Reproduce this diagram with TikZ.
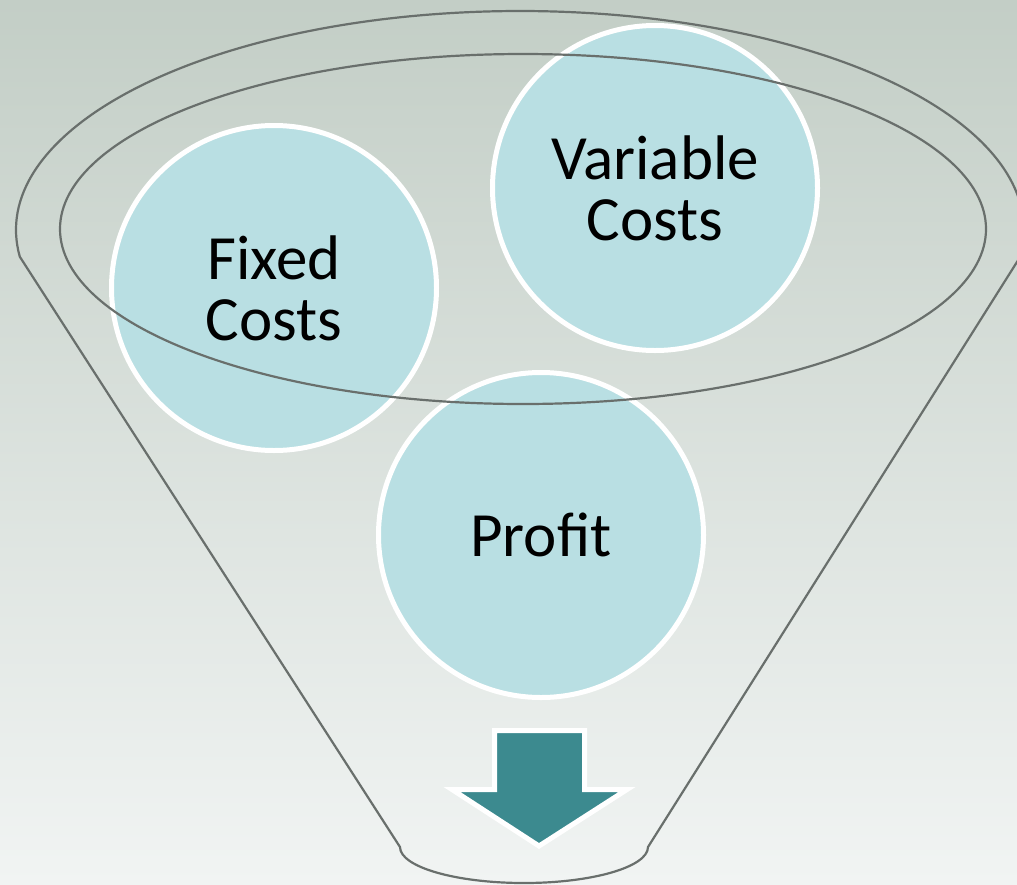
\documentclass[tikz,border=0pt]{standalone}
\usepackage{fontspec}
\setmainfont{Carlito}
\definecolor{bgTop}{HTML}{C3CEC6}
\definecolor{bgBottom}{HTML}{F1F4F3}
\definecolor{bubbleFill}{HTML}{B9DFE3}
\definecolor{funnelLine}{HTML}{696F6C}
\definecolor{arrowFill}{HTML}{3C8A8F}
\begin{document}
\begin{tikzpicture}[x=1pt,y=-1pt,
  bubble/.style={circle, fill=bubbleFill, draw=white, line width=5pt, minimum size=325pt, inner sep=0pt, align=center, font=\fontsize{63}{61}\selectfont},
  funnel/.style={draw=funnelLine, line width=2.2pt}]
\clip (0,0) rectangle (1017,884);
\shade[top color=bgTop, bottom color=bgBottom] (0,0) rectangle (1017,884);
\node[bubble] (fixedCosts) at (274,288) {Fixed\\Costs};
\node[bubble] (variableCosts) at (655,188) {Variable\\Costs};
\node[bubble] (profit) at (541,535) {Profit};
\draw[draw=white, line width=5pt, fill=arrowFill] (494.5,730.5) -- (584.5,730.5) -- (584.5,789.5) -- (627,789.5) -- (539,846) -- (452,789.5) -- (494.5,789.5) -- cycle;
\draw[funnel] (523,229) ellipse[x radius=463, y radius=175];
\draw[funnel] (19.8,256.7) arc[start angle=173, end angle=367, x radius=504, y radius=219] -- (648,847) arc[start angle=0, end angle=180, x radius=124, y radius=36] -- cycle;
\end{tikzpicture}
\end{document}
